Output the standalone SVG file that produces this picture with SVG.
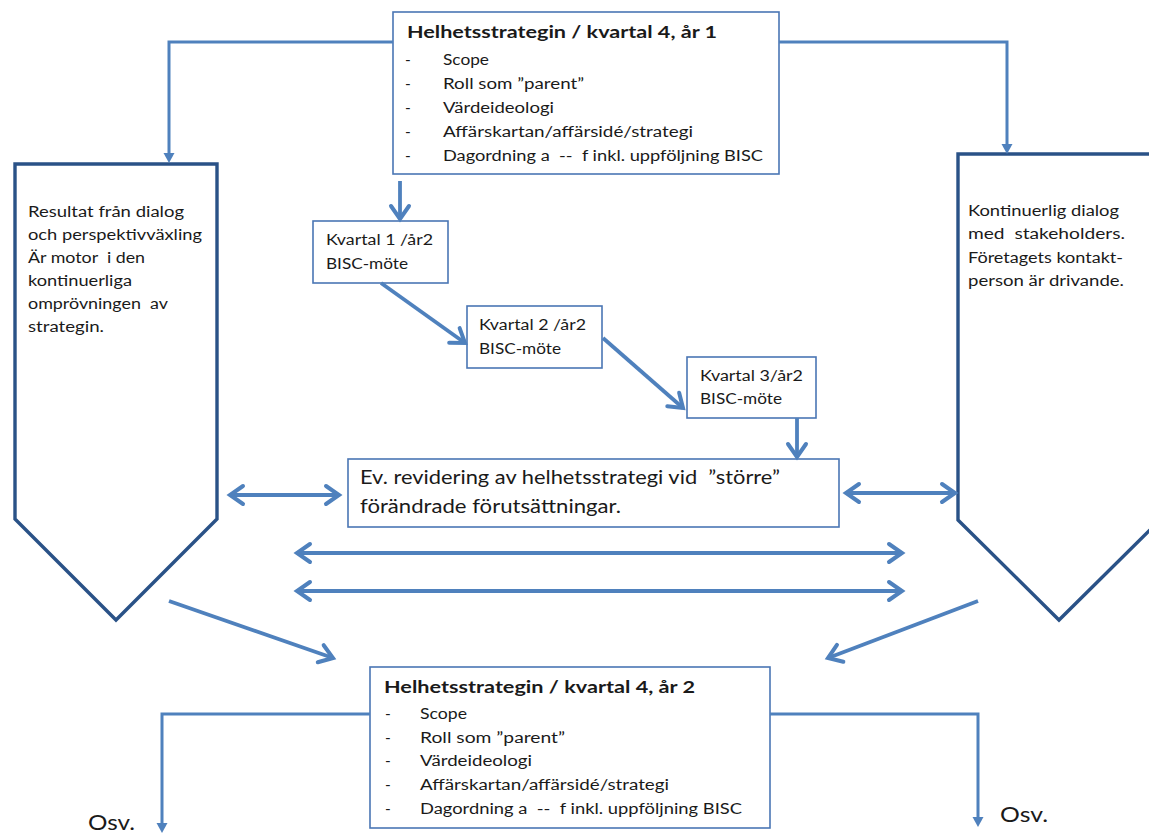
<svg xmlns="http://www.w3.org/2000/svg" width="1149" height="834" viewBox="0 0 1149 834">
  <style>
    text { font-family: Lato, "Liberation Sans", "DejaVu Sans", sans-serif; fill: #1a1a1a; white-space: pre; }
    .t { font-size: 15.5px; }
    .h { font-size: 17px; font-weight: bold; }
    .m { font-size: 18.5px; }
    .o { font-size: 22px; }
    .box { fill: #ffffff; stroke: #4a76b4; stroke-width: 1.6; }
    .pent { fill: #ffffff; stroke: #2a5287; stroke-width: 3.4; stroke-linejoin: miter; }
    .flow { fill: none; stroke: #4f81bd; stroke-width: 3.8; }
    .elbow { fill: none; stroke: #4f81bd; stroke-width: 3; }
  </style>
  <defs>
    <marker id="chev" markerUnits="userSpaceOnUse" viewBox="-20 -15 30 30" markerWidth="30" markerHeight="30" refX="0" refY="0" orient="auto-start-reverse">
      <path d="M-13,-9 L0,0 L-13,9" fill="none" stroke="#4f81bd" stroke-width="4" stroke-linecap="round"/>
    </marker>
    <marker id="tri" markerUnits="userSpaceOnUse" viewBox="0 -6 12 12" markerWidth="12" markerHeight="12" refX="2" refY="0" orient="auto">
      <path d="M0,-5.5 L10,0 L0,5.5 Z" fill="#4f81bd"/>
    </marker>
  </defs>

  <rect width="1149" height="834" fill="#ffffff"/>

  <!-- strategy, year 1 -->
  <g id="strategy-year1">
    <rect class="box" x="393" y="12" width="386" height="162"/>
    <text class="h" x="407" y="38" textLength="310" lengthAdjust="spacingAndGlyphs">Helhetsstrategin / kvartal 4, år 1</text>
    <text class="t" x="405" y="65">-</text>
    <text class="t" x="405" y="89">-</text>
    <text class="t" x="405" y="113">-</text>
    <text class="t" x="405" y="137">-</text>
    <text class="t" x="405" y="161">-</text>
    <text class="t" x="443" y="65" textLength="46" lengthAdjust="spacingAndGlyphs">Scope</text>
    <text class="t" x="443" y="89" textLength="141" lengthAdjust="spacingAndGlyphs">Roll som ”parent”</text>
    <text class="t" x="443" y="113" textLength="111" lengthAdjust="spacingAndGlyphs">Värdeideologi</text>
    <text class="t" x="443" y="137" textLength="250" lengthAdjust="spacingAndGlyphs">Affärskartan/affärsidé/strategi</text>
    <text class="t" x="443" y="161" textLength="320" lengthAdjust="spacingAndGlyphs">Dagordning a  --  f inkl. uppföljning BISC</text>
  </g>

  <!-- left pillar -->
  <g id="dialog-results">
    <polygon class="pent" points="15,164 217,164 217,519 116,620 15,519"/>
    <text class="t" x="28" y="217" textLength="156" lengthAdjust="spacingAndGlyphs">Resultat från dialog</text>
    <text class="t" x="28" y="240" textLength="174" lengthAdjust="spacingAndGlyphs">och perspektivväxling</text>
    <text class="t" x="28" y="263" textLength="117" lengthAdjust="spacingAndGlyphs">Är motor  i den</text>
    <text class="t" x="28" y="286" textLength="104" lengthAdjust="spacingAndGlyphs">kontinuerliga</text>
    <text class="t" x="28" y="309" textLength="140" lengthAdjust="spacingAndGlyphs">omprövningen  av</text>
    <text class="t" x="28" y="332" textLength="76" lengthAdjust="spacingAndGlyphs">strategin.</text>
  </g>

  <!-- right pillar -->
  <g id="stakeholder-dialog">
    <polygon class="pent" points="958,154 1160,154 1160,520 1059,620 958,520"/>
    <text class="t" x="968" y="216" textLength="151" lengthAdjust="spacingAndGlyphs">Kontinuerlig dialog</text>
    <text class="t" x="968" y="239" textLength="157" lengthAdjust="spacingAndGlyphs">med  stakeholders.</text>
    <text class="t" x="968" y="263" textLength="155" lengthAdjust="spacingAndGlyphs">Företagets kontakt-</text>
    <text class="t" x="968" y="286" textLength="156" lengthAdjust="spacingAndGlyphs">person är drivande.</text>
  </g>

  <!-- quarterly meetings -->
  <g id="quarter1">
    <rect class="box" x="313" y="221" width="135" height="62"/>
    <text class="t" x="326" y="245" textLength="107" lengthAdjust="spacingAndGlyphs">Kvartal 1 /år2</text>
    <text class="t" x="326" y="269" textLength="82" lengthAdjust="spacingAndGlyphs">BISC-möte</text>
  </g>
  <g id="quarter2">
    <rect class="box" x="467" y="306" width="135" height="62"/>
    <text class="t" x="479" y="330" textLength="107" lengthAdjust="spacingAndGlyphs">Kvartal 2 /år2</text>
    <text class="t" x="479" y="354" textLength="82" lengthAdjust="spacingAndGlyphs">BISC-möte</text>
  </g>
  <g id="quarter3">
    <rect class="box" x="687" y="357" width="129" height="61"/>
    <text class="t" x="700" y="381" textLength="103" lengthAdjust="spacingAndGlyphs">Kvartal 3/år2</text>
    <text class="t" x="700" y="404" textLength="82" lengthAdjust="spacingAndGlyphs">BISC-möte</text>
  </g>

  <!-- revision -->
  <g id="revision">
    <rect class="box" x="348" y="459" width="491" height="68"/>
    <text class="m" x="360" y="484" textLength="420" lengthAdjust="spacingAndGlyphs">Ev. revidering av helhetsstrategi vid  ”större”</text>
    <text class="m" x="360" y="513" textLength="261" lengthAdjust="spacingAndGlyphs">förändrade förutsättningar.</text>
  </g>

  <!-- strategy, year 2 -->
  <g id="strategy-year2">
    <rect class="box" x="370" y="667" width="400" height="161"/>
    <text class="h" x="384" y="693" textLength="311" lengthAdjust="spacingAndGlyphs">Helhetsstrategin / kvartal 4, år 2</text>
    <text class="t" x="385" y="719">-</text>
    <text class="t" x="385" y="743">-</text>
    <text class="t" x="385" y="766">-</text>
    <text class="t" x="385" y="790">-</text>
    <text class="t" x="385" y="814">-</text>
    <text class="t" x="420" y="719" textLength="47" lengthAdjust="spacingAndGlyphs">Scope</text>
    <text class="t" x="420" y="743" textLength="145" lengthAdjust="spacingAndGlyphs">Roll som ”parent”</text>
    <text class="t" x="420" y="766" textLength="112" lengthAdjust="spacingAndGlyphs">Värdeideologi</text>
    <text class="t" x="420" y="790" textLength="249" lengthAdjust="spacingAndGlyphs">Affärskartan/affärsidé/strategi</text>
    <text class="t" x="420" y="814" textLength="322" lengthAdjust="spacingAndGlyphs">Dagordning a  --  f inkl. uppföljning BISC</text>
  </g>

  <g id="continue-left">
    <text class="o" x="88" y="830" textLength="47" lengthAdjust="spacingAndGlyphs">Osv.</text>
  </g>
  <g id="continue-right">
    <text class="o" x="1000" y="822" textLength="48" lengthAdjust="spacingAndGlyphs">Osv.</text>
  </g>

  <!-- connectors -->
  <g id="connectors">
    <path class="elbow" d="M393,42 H169 V155" marker-end="url(#tri)"/>
    <path class="elbow" d="M779,42 H1007 V146" marker-end="url(#tri)"/>
    <path class="elbow" d="M370,714 H162 V825" marker-end="url(#tri)"/>
    <path class="elbow" d="M770,714 H978 V819" marker-end="url(#tri)"/>

    <path class="flow" d="M400,181 V219" marker-end="url(#chev)"/>
    <path class="flow" d="M381,283 L465,343" marker-end="url(#chev)"/>
    <path class="flow" d="M603,338 L683,408" marker-end="url(#chev)"/>
    <path class="flow" d="M797,418 V457" marker-end="url(#chev)"/>

    <path class="flow" d="M230,495 H339" marker-start="url(#chev)" marker-end="url(#chev)"/>
    <path class="flow" d="M846,493 H955" marker-start="url(#chev)" marker-end="url(#chev)"/>
    <path class="flow" d="M297,553 H902" marker-start="url(#chev)" marker-end="url(#chev)"/>
    <path class="flow" d="M297,591 H902" marker-start="url(#chev)" marker-end="url(#chev)"/>

    <path class="flow" d="M169,601 L333,658" marker-end="url(#chev)"/>
    <path class="flow" d="M978,601 L828,658" marker-end="url(#chev)"/>
  </g>
</svg>
